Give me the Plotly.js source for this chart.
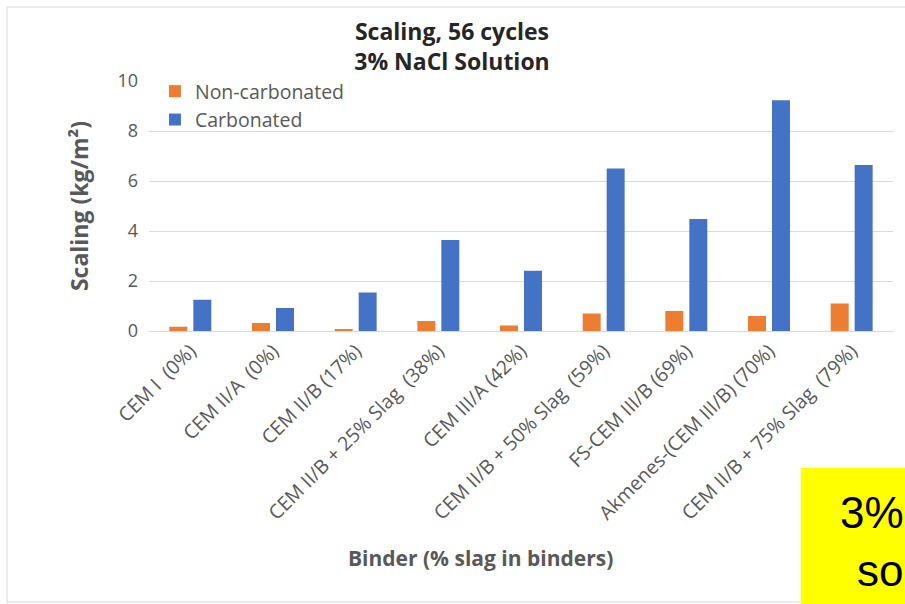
<!DOCTYPE html>
<html>
<head>
<meta charset="utf-8">
<script src="https://cdn.plot.ly/plotly-3.0.1.min.js"></script>
<style>html,body{margin:0;padding:0;background:#fff;}#chart{width:905px;height:604px;}</style>
</head>
<body>
<div id="chart"></div>
<script>
const categories = [
  "CEM I\u00a0 (0%)",
  "CEM II/A\u00a0 (0%)",
  "CEM II/B (17%)",
  "CEM II/B + 25% Slag\u00a0 (38%)",
  "CEM III/A (42%)",
  "CEM II/B + 50% Slag\u00a0 (59%)",
  "FS-CEM III/B (69%)",
  "Akmenes-(CEM III/B) (70%)",
  "CEM II/B + 75% Slag\u00a0 (79%)"
];
const nonCarbonated = [0.17, 0.32, 0.08, 0.40, 0.22, 0.70, 0.80, 0.60, 1.10];
const carbonated    = [1.25, 0.92, 1.54, 3.64, 2.41, 6.50, 4.48, 9.23, 6.64];
const yTicks = [0, 2, 4, 6, 8, 10];

const FONT = "'Open Sans', Lato, sans-serif";
const GRAY = "#595959";

const traces = [
  {type: "bar", name: "Non-carbonated", x: categories, y: nonCarbonated,
   marker: {color: "#ED7D31"}, hoverinfo: "skip"},
  {type: "bar", name: "Carbonated", x: categories, y: carbonated,
   marker: {color: "#4472C4"}, hoverinfo: "skip"}
];

const layout = {
  width: 905, height: 604,
  margin: {l: 149, r: 12, t: 81, b: 273, pad: 0},
  paper_bgcolor: "#ffffff", plot_bgcolor: "#ffffff",
  font: {family: FONT, color: GRAY, size: 17},
  title: {text: "<b>Scaling, 56 cycles<br>3% NaCl Solution</b>", x: 452 / 905, xref: "container", xanchor: "center",
          y: 1 - 40 / 604, yref: "container", yanchor: "middle",
          font: {family: FONT, size: 23, color: "#262626"}},
  barmode: "group", bargap: 0.42, bargroupgap: 0.25,
  showlegend: true,
  legend: {x: 0.008, y: 1.036, xanchor: "left", yanchor: "top", bgcolor: "rgba(0,0,0,0)",
           font: {family: FONT, size: 19.5, color: GRAY}, tracegroupgap: 0, itemwidth: 30},
  xaxis: {type: "category", tickangle: -45, showgrid: false, showline: true, linecolor: "#d9d9d9",
          linewidth: 1, ticks: "", tickfont: {family: FONT, size: 19.5, color: GRAY}, automargin: false},
  yaxis: {range: [0, 10], tickvals: yTicks, showgrid: true, gridcolor: "#d9d9d9", gridwidth: 1,
          zeroline: false, showline: false, ticks: "", ticklabelstandoff: 10,
          tickfont: {family: FONT, size: 18, color: GRAY}, automargin: false,
          title: {text: "<b>Scaling (kg/m²)</b>", standoff: 22,
                  font: {family: FONT, size: 23, color: GRAY}}},
  shapes: [
    {type: "rect", xref: "paper", yref: "paper", x0: -0.1909, x1: 1.05, y0: -1.084, y1: 1.296,
     line: {color: "#d9d9d9", width: 1}, fillcolor: "rgba(0,0,0,0)"},
    {type: "rect", xref: "paper", yref: "paper", x0: 0.876, x1: 1.05, y0: -1.2, y1: -0.548,
     line: {width: 0}, fillcolor: "#ffff00"}
  ],
  annotations: [
    {xref: "paper", yref: "paper", x: (480 - 149) / 744, y: (331 - 558) / 250, xanchor: "center", yanchor: "middle",
     text: "<b>Binder (% slag in binders)</b>", showarrow: false, font: {family: FONT, size: 21, color: GRAY}},
    {xref: "paper", yref: "paper", x: (838 - 149) / 744, y: (331 - 512) / 250, xanchor: "left", yanchor: "middle",
     text: "3% NaCl", showarrow: false, font: {family: "Liberation Sans, Arial, sans-serif", size: 44, color: "#000"}},
    {xref: "paper", yref: "paper", x: (855 - 149) / 744, y: (331 - 570) / 250, xanchor: "left", yanchor: "middle",
     text: "solution", showarrow: false, font: {family: "Liberation Sans, Arial, sans-serif", size: 44, color: "#000"}}
  ]
};

Plotly.newPlot("chart", traces, layout, {displayModeBar: false, staticPlot: true});
</script>
</body>
</html>
